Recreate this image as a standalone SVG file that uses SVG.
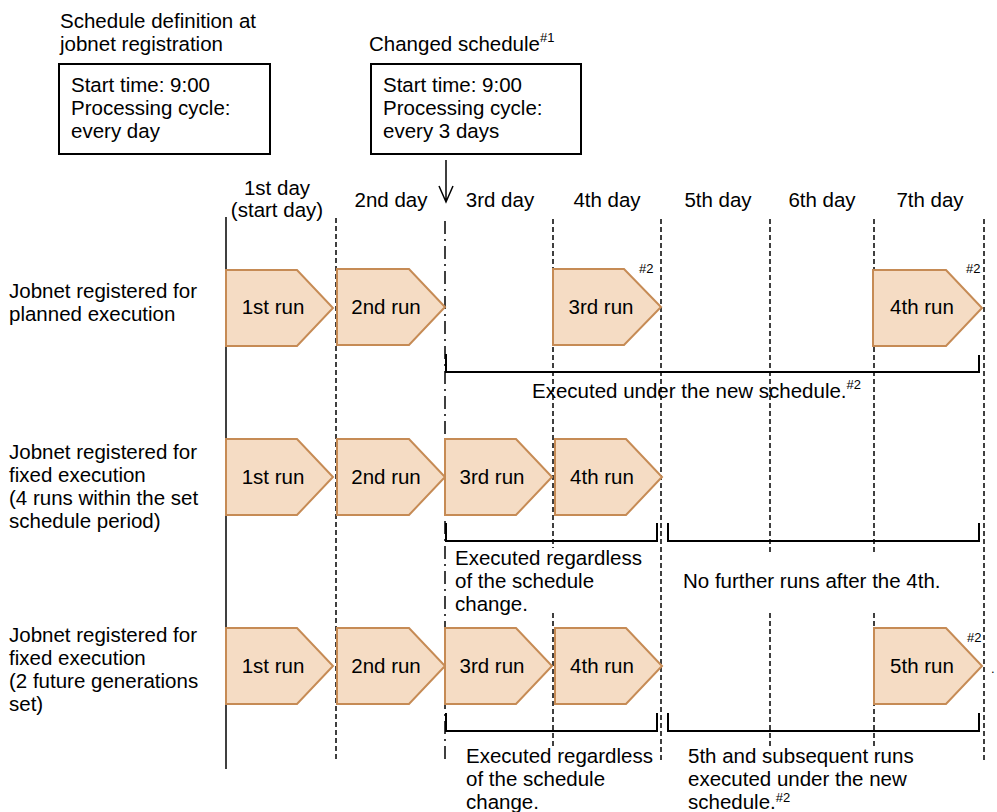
<svg xmlns="http://www.w3.org/2000/svg" width="997" height="812" viewBox="0 0 997 812">
<style>
text{font-family:"Liberation Sans",Arial,sans-serif;font-size:20.5px;fill:#000}
.sup{font-size:13px}
.c{text-anchor:middle}
.box{fill:#fff;stroke:#000;stroke-width:2}
.run{fill:#F5DCC4;stroke:#C68B55;stroke-width:2}
.solid{stroke:#000;stroke-width:1.5;fill:none}
.dash{stroke:#000;stroke-width:1.5;stroke-dasharray:5 3;fill:none}
.dashdot{stroke:#000;stroke-width:1.5;stroke-dasharray:13 5 2 5;fill:none}
.br{stroke:#000;stroke-width:2;fill:none}
</style>
<rect width="997" height="812" fill="#fff"/>

<g id="schedule-def">
<text x="60" y="28">Schedule definition at</text>
<text x="60" y="51">jobnet registration</text>
<rect class="box" x="59" y="64" width="211" height="90"/>
<text x="71" y="92">Start time: 9:00</text>
<text x="71" y="115">Processing cycle:</text>
<text x="71" y="138">every day</text>
</g>

<g id="changed-schedule">
<text x="369" y="51">Changed schedule<tspan class="sup" dy="-9">#1</tspan></text>
<rect class="box" x="371" y="64" width="210" height="90"/>
<text x="383" y="92">Start time: 9:00</text>
<text x="383" y="115">Processing cycle:</text>
<text x="383" y="138">every 3 days</text>
</g>

<g id="days">
<text class="c" x="277" y="195">1st day</text>
<text class="c" x="277" y="217">(start day)</text>
<text class="c" x="391" y="207">2nd day</text>
<text class="c" x="500" y="207">3rd day</text>
<text class="c" x="607" y="207">4th day</text>
<text class="c" x="718" y="207">5th day</text>
<text class="c" x="822" y="207">6th day</text>
<text class="c" x="930" y="207">7th day</text>
</g>

<g id="row-labels">
<text x="9" y="298">Jobnet registered for</text>
<text x="9" y="321">planned execution</text>
<text x="9" y="459">Jobnet registered for</text>
<text x="9" y="482">fixed execution</text>
<text x="9" y="505">(4 runs within the set</text>
<text x="9" y="528">schedule period)</text>
<text x="9" y="642">Jobnet registered for</text>
<text x="9" y="665">fixed execution</text>
<text x="9" y="688">(2 future generations</text>
<text x="9" y="711">set)</text>
</g>

<g id="connectors">
<path class="solid" d="M226 217V769"/>
<path class="dash" d="M336 218V762"/>
<path class="dashdot" d="M445 221V762"/>
<path class="dash" d="M553 219V548M553 613V748"/>
<path class="dash" d="M661 219V763"/>
<path class="dash" d="M770 219V555M770 613V748"/>
<path class="dash" d="M874 219V555M874 613V748"/>
<path class="dash" d="M984 219V763"/>
<path class="solid" d="M446 160V202M439 186L446 202L453 186"/>
<path class="br" d="M446 354V372H979V355"/>
<path class="br" d="M446 523V541H657V523M668 523V541H979V523"/>
<path class="br" d="M446 713V731H657V713M668 713V731H979V713"/>
</g>

<g id="row1">
<path class="run" d="M226 270H297L333 308L297 346H226Z"/>
<text class="c" x="273" y="314">1st run</text>
<path class="run" d="M337 269H409L445 307L409 345H337Z"/>
<text class="c" x="386" y="314">2nd run</text>
<path class="run" d="M553 269H624L661 307L624 345H553Z"/>
<text class="c" x="601" y="314">3rd run</text>
<text class="sup" x="639" y="273">#2</text>
<path class="run" d="M873 270H946L982 308L946 346H873Z"/>
<text class="c" x="922" y="314">4th run</text>
<text class="sup" x="966" y="273">#2</text>
<text x="532" y="398">Executed under the new schedule.<tspan class="sup" dy="-9">#2</tspan></text>
</g>

<g id="row2">
<path class="run" d="M226 439H297L333 477L297 515H226Z"/>
<text class="c" x="273" y="484">1st run</text>
<path class="run" d="M337 439H409L445 477L409 515H337Z"/>
<text class="c" x="386" y="484">2nd run</text>
<path class="run" d="M445 439H516L552 477L516 515H445Z"/>
<text class="c" x="492" y="484">3rd run</text>
<path class="run" d="M555 439H626L662 477L626 515H555Z"/>
<text class="c" x="602" y="484">4th run</text>
<text x="455" y="565">Executed regardless</text>
<text x="455" y="588">of the schedule</text>
<text x="455" y="611">change.</text>
<text x="683" y="588">No further runs after the 4th.</text>
</g>

<g id="row3">
<path class="run" d="M226 628H297L333 666L297 704H226Z"/>
<text class="c" x="273" y="673">1st run</text>
<path class="run" d="M337 628H409L445 666L409 704H337Z"/>
<text class="c" x="386" y="673">2nd run</text>
<path class="run" d="M445 628H516L552 666L516 704H445Z"/>
<text class="c" x="492" y="673">3rd run</text>
<path class="run" d="M555 628H626L662 666L626 704H555Z"/>
<text class="c" x="602" y="673">4th run</text>
<path class="run" d="M874 628H946L982 666L946 704H874Z"/>
<text class="c" x="922" y="673">5th run</text>
<text class="sup" x="967" y="642">#2</text>
<text class="sup" x="991" y="673">.</text>
<text x="466" y="763">Executed regardless</text>
<text x="466" y="786">of the schedule</text>
<text x="466" y="809">change.</text>
<text x="688" y="763">5th and subsequent runs</text>
<text x="688" y="786">executed under the new</text>
<text x="688" y="809">schedule.<tspan class="sup" dy="-7">#2</tspan></text>
</g>
</svg>
